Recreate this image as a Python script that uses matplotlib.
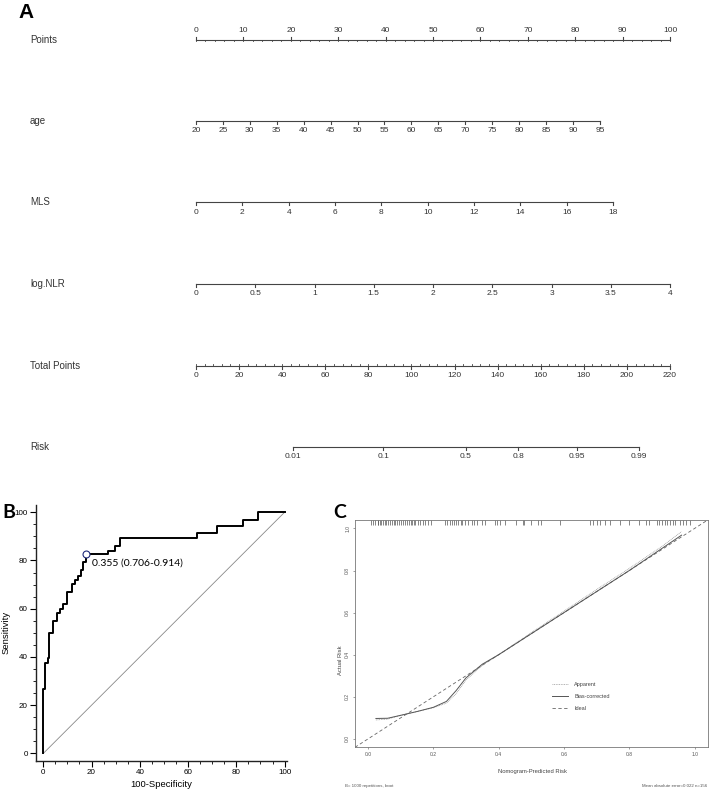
import numpy as np
import matplotlib.pyplot as plt

plt.rcParams['font.family'] = ['Liberation Sans', 'DejaVu Sans']

W, H = 709, 790

# ---- nomogram (panel A) ----
points_ticks = list(range(0, 101, 10))
age_ticks = list(range(20, 96, 5))
age_max_points = 85.2
mls_ticks = list(range(0, 19, 2))
mls_max_points = 88.0
nlr_ticks = [0, 0.5, 1, 1.5, 2, 2.5, 3, 3.5, 4]
nlr_max_points = 100.0
total_ticks = list(range(0, 221, 20))
total_max = 220
risk_ticks = [0.01, 0.1, 0.5, 0.8, 0.95, 0.99]
risk_mid_points = 125.3
risk_points_per_logit = 17.47

# ---- ROC (panel B) ----
roc_fpr = [0, 0.84, 1.8, 2.5, 3.9, 5.9, 6.9, 8.0, 10.0, 11.8, 13.1, 14.6, 15.6,
           16.5, 17.6, 26.9, 29.7, 31.6, 63.7, 72.0, 82.8, 89.0, 100]
roc_tpr = [0, 26.9, 37.3, 39.4, 49.8, 55.0, 58.4, 60.0, 61.8, 67.1, 70.3, 72.0,
           73.6, 76.1, 79.2, 82.6, 84.0, 86.1, 89.3, 91.4, 94.5, 96.7, 100]
cut_point = (17.6, 82.6)
cut_label = "0.355 (0.706-0.914)"

# ---- calibration (panel C) ----
cal_pred = [0.024, 0.06, 0.1, 0.15, 0.2, 0.24, 0.27, 0.3, 0.35, 0.4, 0.5, 0.6,
            0.7, 0.8, 0.9, 0.96]
cal_apparent = [0.09, 0.094, 0.112, 0.13, 0.148, 0.17, 0.215, 0.28, 0.35, 0.40,
                0.505, 0.607, 0.71, 0.81, 0.915, 0.985]
cal_bias = [0.097, 0.098, 0.112, 0.13, 0.15, 0.178, 0.23, 0.29, 0.355, 0.40,
            0.50, 0.60, 0.70, 0.80, 0.905, 0.968]
rug_pred = [0.01, 0.015, 0.02, 0.03, 0.031, 0.036, 0.041, 0.046, 0.051, 0.056,
            0.061, 0.066, 0.072, 0.08, 0.084, 0.09, 0.095, 0.102, 0.107, 0.112,
            0.12, 0.125, 0.13, 0.135, 0.141, 0.145, 0.153, 0.158, 0.168, 0.174,
            0.184, 0.192, 0.237, 0.243, 0.25, 0.256, 0.262, 0.268, 0.276, 0.285,
            0.289, 0.297, 0.307, 0.318, 0.325, 0.333, 0.349, 0.359, 0.39, 0.395,
            0.405, 0.42, 0.452, 0.473, 0.479, 0.5, 0.52, 0.53, 0.587, 0.68,
            0.69, 0.70, 0.71, 0.725, 0.74, 0.77, 0.80, 0.83, 0.85, 0.86, 0.885,
            0.892, 0.90, 0.908, 0.915, 0.925, 0.935, 0.94, 0.955, 0.965, 0.975,
            0.985]
cal_note_left = "B= 1000 repetitions, boot"
cal_note_right = "Mean absolute error=0.022 n=156"


def fx(x):
    return x / W


def fy(y):
    return 1 - y / H


fig = plt.figure(figsize=(W / 100, H / 100), dpi=100)

# nomogram axes: x in points units, y in pixel rows
top_h = 470
ax = fig.add_axes([0, fy(top_h), 1, top_h / H])
px_per_pt = (670 - 196) / 100
ax.set_xlim(-196 / px_per_pt, (W - 196) / px_per_pt)
ax.set_ylim(top_h, 0)
ax.axis('off')

line_col = '#444444'
txt_col = '#333333'


def draw_scale(y, pos, labels, up=False, minor=None, minor_up=False):
    ax.plot([min(pos), max(pos)], [y, y], color=line_col, lw=0.8)
    d = -3 if up else 3
    for p, lab in zip(pos, labels):
        ax.plot([p, p], [y, y + d], color=line_col, lw=0.8)
        ax.text(p, y + (-10 if up else 10), lab, ha='center', va='center',
                fontsize=6, color=txt_col)
    if minor is not None:
        dm = -1.5 if minor_up else 1.5
        for p in minor:
            ax.plot([p, p], [y, y + dm], color=line_col, lw=0.6)


def row_label(y, s):
    ax.text(-166 / px_per_pt, y, s, ha='left', va='center', fontsize=7,
            color=txt_col)


rows_y = {'Points': 40, 'age': 121, 'MLS': 202, 'log.NLR': 284,
          'Total Points': 366, 'Risk': 447}

draw_scale(rows_y['Points'], points_ticks, [str(v) for v in points_ticks],
           up=True, minor=np.arange(0, 101, 2))

age_pos = [(a - age_ticks[0]) / (age_ticks[-1] - age_ticks[0]) * age_max_points
           for a in age_ticks]
draw_scale(rows_y['age'], age_pos, [str(a) for a in age_ticks])

mls_pos = [m / mls_ticks[-1] * mls_max_points for m in mls_ticks]
draw_scale(rows_y['MLS'], mls_pos, [str(m) for m in mls_ticks])

nlr_pos = [v / nlr_ticks[-1] * nlr_max_points for v in nlr_ticks]
draw_scale(rows_y['log.NLR'], nlr_pos, ['%g' % v for v in nlr_ticks])

tot_pos = [t * 100 / total_max for t in total_ticks]
draw_scale(rows_y['Total Points'], tot_pos, [str(t) for t in total_ticks],
           minor=np.arange(0, total_max + 1, 4) * 100 / total_max, minor_up=True)

risk_pos = [(risk_mid_points + risk_points_per_logit * np.log(p / (1 - p)))
            * 100 / total_max for p in risk_ticks]
draw_scale(rows_y['Risk'], risk_pos, ['%g' % p for p in risk_ticks])

for name, y in rows_y.items():
    row_label(y, name)

fig.text(fx(18), fy(12), 'A', fontsize=15, fontweight='bold', va='center',
         ha='left', color='black')

# ---- panel B ----
axb = fig.add_axes([fx(36), fy(760.7), fx(287 - 36), (760.7 - 505) / H])
axb.plot([0, 100], [0, 100], color='#888888', lw=0.6)
axb.plot(roc_fpr, roc_tpr, drawstyle='steps-pre', color='black', lw=1.4)
axb.plot(*cut_point, 'o', mfc='white', mec='#1f2a7a', ms=5, mew=0.8)
axb.text(cut_point[0] + 2.6, cut_point[1] - 3.6, cut_label, fontsize=7.5,
         family=['Lato', 'DejaVu Sans'], va='center', ha='left')
axb.set_xlim(-3, 101)
axb.set_ylim(-3, 103)
for s in ['top', 'right']:
    axb.spines[s].set_visible(False)
for s in ['left', 'bottom']:
    axb.spines[s].set_linewidth(1.0)
    axb.spines[s].set_color('#222222')
axb.set_xticks(range(0, 101, 20))
axb.set_yticks(range(0, 101, 20))
axb.set_xticks(range(0, 101, 5), minor=True)
axb.set_yticks(range(0, 101, 5), minor=True)
axb.tick_params(which='major', length=4, width=0.8, labelsize=5.8, pad=2)
axb.tick_params(which='minor', length=2, width=0.6)
axb.set_xlabel('100-Specificity', fontsize=6.8, labelpad=3)
fig.text(fx(6), fy(632), 'Sensitivity', fontsize=6.8, rotation=90,
         ha='center', va='center')
fig.text(fx(2), fy(512), 'B', fontsize=14, fontweight='bold', va='center',
         ha='left', family=['Lato', 'DejaVu Sans'])

# ---- panel C ----
axc = fig.add_axes([fx(355), fy(747.3), fx(707.7 - 355), (747.3 - 520) / H])
axc.set_xlim(-0.04, 1.04)
axc.set_ylim(-0.04, 1.04)
gray = '#666666'
axc.plot([-0.04, 1.04], [-0.04, 1.04], color=gray, lw=0.6, ls=(0, (4, 3)))
h_app, = axc.plot(cal_pred, cal_apparent, color='#999999', lw=0.6,
                  ls=(0, (1, 1)))
h_bias, = axc.plot(cal_pred, cal_bias, color='#555555', lw=0.7)
h_ideal, = axc.plot([], [], color=gray, lw=0.6, ls=(0, (4, 3)))
axc.vlines(rug_pred, 1.04 - 0.022, 1.04, color='#555555', lw=0.5)
for s in axc.spines.values():
    s.set_color('#777777')
    s.set_linewidth(0.6)
axc.set_xticks(np.arange(0, 1.01, 0.2))
axc.set_yticks(np.arange(0, 1.01, 0.2))
axc.set_xticklabels(['%.1f' % v for v in np.arange(0, 1.01, 0.2)])
axc.set_yticklabels(['%.1f' % v for v in np.arange(0, 1.01, 0.2)],
                    rotation=90, va='center')
axc.tick_params(length=1.5, width=0.4, labelsize=3.6, pad=2,
                colors='#555555')
axc.legend([h_app, h_bias, h_ideal], ['Apparent', 'Bias-corrected', 'Ideal'],
           loc='upper left', bbox_to_anchor=(0.545, 0.31), frameon=False,
           fontsize=4, handlelength=2.8, handletextpad=1.2, labelspacing=1.3,
           labelcolor='#444444')
fig.text(fx(532), fy(772), 'Nomogram-Predicted Risk', fontsize=4.2,
         ha='center', va='center', color='#444444')
fig.text(fx(341), fy(660), 'Actual Risk', fontsize=4.2, rotation=90,
         ha='center', va='center', color='#444444')
fig.text(fx(345), fy(786), cal_note_left, fontsize=3.2, ha='left',
         va='center', color='#555555')
fig.text(fx(707), fy(786), cal_note_right, fontsize=3.2, ha='right',
         va='center', color='#555555')
fig.text(fx(333), fy(512), 'C', fontsize=14, fontweight='bold', va='center',
         ha='left', family=['Lato', 'DejaVu Sans'])

fig.savefig('out.png', dpi=100)
